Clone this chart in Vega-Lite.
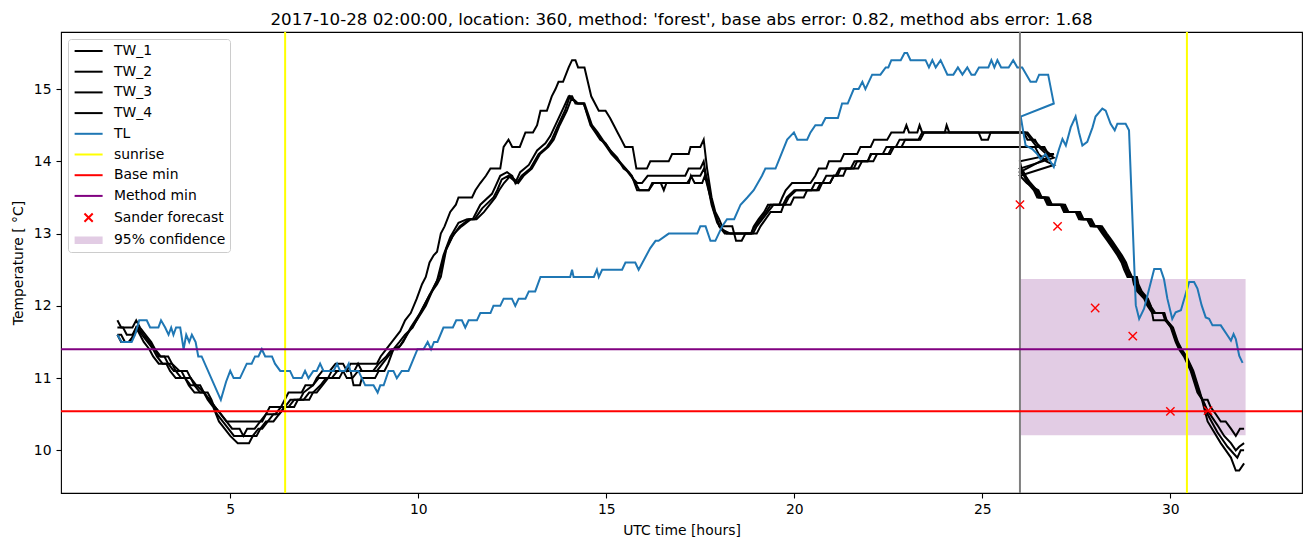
{
"$schema": "https://vega.github.io/schema/vega-lite/v6.json",
"width": 1241,
"height": 461,
"autosize": {"type": "none"},
"padding": {"left": 61, "top": 32, "right": 9, "bottom": 54},
"background": "white",
"config": {
"font": "DejaVu Sans",
"view": {"stroke": "black", "strokeWidth": 1.1},
"axis": {"domain": false, "grid": false, "tickColor": "black", "tickWidth": 1.1, "tickSize": 5, "labelFont": "DejaVu Sans", "labelFontSize": 13.9, "labelColor": "black", "titleFont": "DejaVu Sans", "titleFontSize": 13.9, "titleFontWeight": "normal", "titleColor": "black"},
"axisX": {"labelPadding": 4, "titlePadding": 8},
"axisY": {"labelPadding": 5, "titlePadding": 8}
},
"title": {"text": "2017-10-28 02:00:00, location: 360, method: 'forest', base abs error: 0.82, method abs error: 1.68", "font": "DejaVu Sans", "fontSize": 16.7, "fontWeight": "normal", "color": "black", "anchor": "middle", "offset": 2},
"datasets": {
"band": [{"hour": 26, "hour2": 32, "temp": 10.21, "temp2": 12.37}],
"vlines": [{"kind": "sunrise", "hour": 6.46}, {"kind": "sunrise", "hour": 30.44}, {"kind": "start", "hour": 26}],
"hlines": [{"kind": "Base min", "temp": 10.54}, {"kind": "Method min", "temp": 11.40}],
"forecast": [{"hour": 26, "temp": 13.40}, {"hour": 27, "temp": 13.10}, {"hour": 28, "temp": 11.97}, {"hour": 29, "temp": 11.58}, {"hour": 30, "temp": 10.54}, {"hour": 31, "temp": 10.55}],
"legend": [{"series": "TW_1", "hour": 2, "temp": 11.6}, {"series": "TW_2", "hour": 2, "temp": 11.6}, {"series": "TW_3", "hour": 2, "temp": 11.6}, {"series": "TW_4", "hour": 2, "temp": 11.6}, {"series": "TL", "hour": 2, "temp": 11.6}, {"series": "sunrise", "hour": 2, "temp": 11.6}, {"series": "Base min", "hour": 2, "temp": 11.6}, {"series": "Method min", "hour": 2, "temp": 11.6}, {"series": "Sander forecast", "hour": 2, "temp": 11.6}, {"series": "95% confidence", "hour": 2, "temp": 11.6}],
"lines": [
{"series":"TW_1","hour":2.0,"temp":11.8},{"series":"TW_1","hour":2.1,"temp":11.7},{"series":"TW_1","hour":2.4,"temp":11.7},{"series":"TW_1","hour":2.5,"temp":11.8},{"series":"TW_1","hour":2.6,"temp":11.7},{"series":"TW_1","hour":2.75,"temp":11.6},{"series":"TW_1","hour":2.9,"temp":11.5},{"series":"TW_1","hour":3.0,"temp":11.4},{"series":"TW_1","hour":3.15,"temp":11.3},{"series":"TW_1","hour":3.35,"temp":11.3},{"series":"TW_1","hour":3.45,"temp":11.2},{"series":"TW_1","hour":3.65,"temp":11.1},{"series":"TW_1","hour":3.85,"temp":11.1},{"series":"TW_1","hour":3.95,"temp":11.0},{"series":"TW_1","hour":4.1,"temp":10.9},{"series":"TW_1","hour":4.3,"temp":10.8},{"series":"TW_1","hour":4.45,"temp":10.7},{"series":"TW_1","hour":4.6,"temp":10.6},{"series":"TW_1","hour":4.75,"temp":10.5},{"series":"TW_1","hour":4.9,"temp":10.4},{"series":"TW_1","hour":5.85,"temp":10.4},{"series":"TW_1","hour":5.95,"temp":10.5},{"series":"TW_1","hour":6.05,"temp":10.6},{"series":"TW_1","hour":6.35,"temp":10.6},{"series":"TW_1","hour":6.45,"temp":10.7},{"series":"TW_1","hour":6.55,"temp":10.8},{"series":"TW_1","hour":6.9,"temp":10.8},{"series":"TW_1","hour":7.0,"temp":10.9},{"series":"TW_1","hour":7.2,"temp":10.9},{"series":"TW_1","hour":7.3,"temp":11.0},{"series":"TW_1","hour":7.45,"temp":11.1},{"series":"TW_1","hour":7.65,"temp":11.1},{"series":"TW_1","hour":7.8,"temp":11.2},{"series":"TW_1","hour":8.0,"temp":11.2},{"series":"TW_1","hour":8.1,"temp":11.1},{"series":"TW_1","hour":8.2,"temp":11.2},{"series":"TW_1","hour":8.9,"temp":11.2},{"series":"TW_1","hour":9.0,"temp":11.3},{"series":"TW_1","hour":9.15,"temp":11.4},{"series":"TW_1","hour":9.3,"temp":11.5},{"series":"TW_1","hour":9.52,"temp":11.65},{"series":"TW_1","hour":9.65,"temp":11.8},{"series":"TW_1","hour":9.8,"temp":11.9},{"series":"TW_1","hour":9.96,"temp":12.1},{"series":"TW_1","hour":10.1,"temp":12.3},{"series":"TW_1","hour":10.2,"temp":12.4},{"series":"TW_1","hour":10.3,"temp":12.6},{"series":"TW_1","hour":10.41,"temp":12.7},{"series":"TW_1","hour":10.5,"temp":12.75},{"series":"TW_1","hour":10.6,"temp":13.0},{"series":"TW_1","hour":10.7,"temp":13.1},{"series":"TW_1","hour":10.85,"temp":13.3},{"series":"TW_1","hour":11.0,"temp":13.4},{"series":"TW_1","hour":11.07,"temp":13.5},{"series":"TW_1","hour":11.43,"temp":13.5},{"series":"TW_1","hour":11.52,"temp":13.6},{"series":"TW_1","hour":11.65,"temp":13.7},{"series":"TW_1","hour":11.8,"temp":13.8},{"series":"TW_1","hour":11.92,"temp":13.9},{"series":"TW_1","hour":12.18,"temp":13.9},{"series":"TW_1","hour":12.27,"temp":14.2},{"series":"TW_1","hour":12.4,"temp":14.3},{"series":"TW_1","hour":12.5,"temp":14.2},{"series":"TW_1","hour":12.7,"temp":14.2},{"series":"TW_1","hour":12.85,"temp":14.4},{"series":"TW_1","hour":13.05,"temp":14.4},{"series":"TW_1","hour":13.16,"temp":14.5},{"series":"TW_1","hour":13.25,"temp":14.7},{"series":"TW_1","hour":13.42,"temp":14.7},{"series":"TW_1","hour":13.55,"temp":14.9},{"series":"TW_1","hour":13.65,"temp":15.0},{"series":"TW_1","hour":13.73,"temp":15.1},{"series":"TW_1","hour":13.85,"temp":15.1},{"series":"TW_1","hour":14.0,"temp":15.3},{"series":"TW_1","hour":14.09,"temp":15.4},{"series":"TW_1","hour":14.18,"temp":15.4},{"series":"TW_1","hour":14.25,"temp":15.3},{"series":"TW_1","hour":14.42,"temp":15.3},{"series":"TW_1","hour":14.6,"temp":14.9},{"series":"TW_1","hour":14.8,"temp":14.7},{"series":"TW_1","hour":14.98,"temp":14.7},{"series":"TW_1","hour":15.1,"temp":14.6},{"series":"TW_1","hour":15.2,"temp":14.5},{"series":"TW_1","hour":15.3,"temp":14.4},{"series":"TW_1","hour":15.4,"temp":14.3},{"series":"TW_1","hour":15.5,"temp":14.2},{"series":"TW_1","hour":15.7,"temp":14.2},{"series":"TW_1","hour":15.8,"temp":13.9},{"series":"TW_1","hour":16.08,"temp":13.9},{"series":"TW_1","hour":16.17,"temp":14.0},{"series":"TW_1","hour":16.66,"temp":14.0},{"series":"TW_1","hour":16.75,"temp":14.1},{"series":"TW_1","hour":17.19,"temp":14.1},{"series":"TW_1","hour":17.24,"temp":14.2},{"series":"TW_1","hour":17.5,"temp":14.2},{"series":"TW_1","hour":17.59,"temp":14.3},{"series":"TW_1","hour":17.68,"temp":13.9},{"series":"TW_1","hour":17.8,"temp":13.5},{"series":"TW_1","hour":17.9,"temp":13.3},{"series":"TW_1","hour":18.0,"temp":13.2},{"series":"TW_1","hour":18.08,"temp":13.1},{"series":"TW_1","hour":18.35,"temp":13.1},{"series":"TW_1","hour":18.45,"temp":12.9},{"series":"TW_1","hour":18.6,"temp":12.9},{"series":"TW_1","hour":18.7,"temp":13.0},{"series":"TW_1","hour":18.85,"temp":13.0},{"series":"TW_1","hour":18.92,"temp":13.1},{"series":"TW_1","hour":19.05,"temp":13.2},{"series":"TW_1","hour":19.2,"temp":13.3},{"series":"TW_1","hour":19.3,"temp":13.4},{"series":"TW_1","hour":19.6,"temp":13.4},{"series":"TW_1","hour":19.68,"temp":13.5},{"series":"TW_1","hour":19.77,"temp":13.6},{"series":"TW_1","hour":19.94,"temp":13.7},{"series":"TW_1","hour":20.43,"temp":13.7},{"series":"TW_1","hour":20.56,"temp":13.8},{"series":"TW_1","hour":20.65,"temp":13.9},{"series":"TW_1","hour":20.85,"temp":13.9},{"series":"TW_1","hour":20.92,"temp":14.0},{"series":"TW_1","hour":21.23,"temp":14.0},{"series":"TW_1","hour":21.32,"temp":14.1},{"series":"TW_1","hour":21.67,"temp":14.1},{"series":"TW_1","hour":21.76,"temp":14.2},{"series":"TW_1","hour":22.03,"temp":14.2},{"series":"TW_1","hour":22.12,"temp":14.3},{"series":"TW_1","hour":22.47,"temp":14.3},{"series":"TW_1","hour":22.58,"temp":14.4},{"series":"TW_1","hour":22.91,"temp":14.4},{"series":"TW_1","hour":22.98,"temp":14.5},{"series":"TW_1","hour":23.05,"temp":14.4},{"series":"TW_1","hour":23.27,"temp":14.4},{"series":"TW_1","hour":23.33,"temp":14.5},{"series":"TW_1","hour":23.4,"temp":14.4},{"series":"TW_1","hour":24.0,"temp":14.4},{"series":"TW_1","hour":24.05,"temp":14.5},{"series":"TW_1","hour":24.12,"temp":14.4},{"series":"TW_1","hour":26.1,"temp":14.4},{"series":"TW_1","hour":26.2,"temp":14.3},{"series":"TW_1","hour":26.4,"temp":14.3},{"series":"TW_1","hour":26.5,"temp":14.2},{"series":"TW_1","hour":26.7,"temp":14.1},{"series":"TW_1","hour":26.9,"temp":14.1},
{"series":"TW_1","hour":26.0,"temp":14.0},{"series":"TW_1","hour":26.06,"temp":13.85},{"series":"TW_1","hour":26.2,"temp":13.7},{"series":"TW_1","hour":26.37,"temp":13.6},{"series":"TW_1","hour":26.46,"temp":13.5},{"series":"TW_1","hour":26.64,"temp":13.5},{"series":"TW_1","hour":26.73,"temp":13.4},{"series":"TW_1","hour":27.08,"temp":13.4},{"series":"TW_1","hour":27.17,"temp":13.3},{"series":"TW_1","hour":27.48,"temp":13.3},{"series":"TW_1","hour":27.57,"temp":13.2},{"series":"TW_1","hour":27.78,"temp":13.2},{"series":"TW_1","hour":27.88,"temp":13.1},{"series":"TW_1","hour":28.06,"temp":13.1},{"series":"TW_1","hour":28.19,"temp":13.0},{"series":"TW_1","hour":28.33,"temp":12.9},{"series":"TW_1","hour":28.46,"temp":12.8},{"series":"TW_1","hour":28.59,"temp":12.7},{"series":"TW_1","hour":28.7,"temp":12.6},{"series":"TW_1","hour":28.77,"temp":12.5},{"series":"TW_1","hour":28.86,"temp":12.4},{"series":"TW_1","hour":28.99,"temp":12.4},{"series":"TW_1","hour":29.03,"temp":12.3},{"series":"TW_1","hour":29.12,"temp":12.2},{"series":"TW_1","hour":29.3,"temp":12.1},{"series":"TW_1","hour":29.39,"temp":12.0},{"series":"TW_1","hour":29.52,"temp":11.9},{"series":"TW_1","hour":29.83,"temp":11.9},{"series":"TW_1","hour":29.88,"temp":11.8},{"series":"TW_1","hour":30.01,"temp":11.7},{"series":"TW_1","hour":30.14,"temp":11.5},{"series":"TW_1","hour":30.23,"temp":11.4},{"series":"TW_1","hour":30.36,"temp":11.3},{"series":"TW_1","hour":30.45,"temp":11.2},{"series":"TW_1","hour":30.54,"temp":11.1},{"series":"TW_1","hour":30.63,"temp":10.95},{"series":"TW_1","hour":30.72,"temp":10.8},{"series":"TW_1","hour":30.85,"temp":10.7},{"series":"TW_1","hour":30.99,"temp":10.7},{"series":"TW_1","hour":31.07,"temp":10.6},{"series":"TW_1","hour":31.21,"temp":10.5},{"series":"TW_1","hour":31.34,"temp":10.4},{"series":"TW_1","hour":31.47,"temp":10.4},{"series":"TW_1","hour":31.61,"temp":10.3},{"series":"TW_1","hour":31.74,"temp":10.2},{"series":"TW_1","hour":31.85,"temp":10.3},{"series":"TW_1","hour":31.96,"temp":10.3},
{"series":"TW_2","hour":2.0,"temp":11.6},{"series":"TW_2","hour":2.1,"temp":11.6},{"series":"TW_2","hour":2.2,"temp":11.5},{"series":"TW_2","hour":2.35,"temp":11.5},{"series":"TW_2","hour":2.5,"temp":11.7},{"series":"TW_2","hour":2.6,"temp":11.6},{"series":"TW_2","hour":2.7,"temp":11.5},{"series":"TW_2","hour":2.85,"temp":11.4},{"series":"TW_2","hour":2.95,"temp":11.3},{"series":"TW_2","hour":3.1,"temp":11.2},{"series":"TW_2","hour":3.3,"temp":11.2},{"series":"TW_2","hour":3.4,"temp":11.1},{"series":"TW_2","hour":3.55,"temp":11.0},{"series":"TW_2","hour":3.8,"temp":11.0},{"series":"TW_2","hour":3.9,"temp":10.9},{"series":"TW_2","hour":4.05,"temp":10.8},{"series":"TW_2","hour":4.3,"temp":10.8},{"series":"TW_2","hour":4.4,"temp":10.7},{"series":"TW_2","hour":4.55,"temp":10.6},{"series":"TW_2","hour":4.7,"temp":10.4},{"series":"TW_2","hour":4.85,"temp":10.3},{"series":"TW_2","hour":5.0,"temp":10.2},{"series":"TW_2","hour":5.2,"temp":10.1},{"series":"TW_2","hour":5.5,"temp":10.1},{"series":"TW_2","hour":5.6,"temp":10.2},{"series":"TW_2","hour":5.75,"temp":10.3},{"series":"TW_2","hour":5.85,"temp":10.3},{"series":"TW_2","hour":6.0,"temp":10.4},{"series":"TW_2","hour":6.15,"temp":10.5},{"series":"TW_2","hour":6.3,"temp":10.5},{"series":"TW_2","hour":6.45,"temp":10.6},{"series":"TW_2","hour":6.6,"temp":10.7},{"series":"TW_2","hour":6.85,"temp":10.7},{"series":"TW_2","hour":6.95,"temp":10.8},{"series":"TW_2","hour":7.2,"temp":10.9},{"series":"TW_2","hour":7.35,"temp":11.0},{"series":"TW_2","hour":7.6,"temp":11.0},{"series":"TW_2","hour":7.7,"temp":11.1},{"series":"TW_2","hour":8.0,"temp":11.1},{"series":"TW_2","hour":8.1,"temp":11.0},{"series":"TW_2","hour":8.25,"temp":11.0},{"series":"TW_2","hour":8.4,"temp":11.1},{"series":"TW_2","hour":8.9,"temp":11.1},{"series":"TW_2","hour":9.05,"temp":11.2},{"series":"TW_2","hour":9.2,"temp":11.3},{"series":"TW_2","hour":9.35,"temp":11.4},{"series":"TW_2","hour":9.52,"temp":11.45},{"series":"TW_2","hour":9.7,"temp":11.6},{"series":"TW_2","hour":9.96,"temp":11.8},{"series":"TW_2","hour":10.2,"temp":12.0},{"series":"TW_2","hour":10.41,"temp":12.25},{"series":"TW_2","hour":10.5,"temp":12.35},{"series":"TW_2","hour":10.67,"temp":12.7},{"series":"TW_2","hour":10.85,"temp":12.95},{"series":"TW_2","hour":11.07,"temp":13.15},{"series":"TW_2","hour":11.3,"temp":13.2},{"series":"TW_2","hour":11.45,"temp":13.2},{"series":"TW_2","hour":11.65,"temp":13.4},{"series":"TW_2","hour":11.96,"temp":13.55},{"series":"TW_2","hour":12.05,"temp":13.65},{"series":"TW_2","hour":12.18,"temp":13.8},{"series":"TW_2","hour":12.36,"temp":13.85},{"series":"TW_2","hour":12.5,"temp":13.8},{"series":"TW_2","hour":12.58,"temp":13.7},{"series":"TW_2","hour":12.71,"temp":13.85},{"series":"TW_2","hour":12.94,"temp":13.95},{"series":"TW_2","hour":13.16,"temp":14.15},{"series":"TW_2","hour":13.38,"temp":14.25},{"series":"TW_2","hour":13.51,"temp":14.35},{"series":"TW_2","hour":13.69,"temp":14.55},{"series":"TW_2","hour":13.87,"temp":14.75},{"series":"TW_2","hour":14.0,"temp":14.9},{"series":"TW_2","hour":14.09,"temp":14.9},{"series":"TW_2","hour":14.18,"temp":14.8},{"series":"TW_2","hour":14.4,"temp":14.8},{"series":"TW_2","hour":14.58,"temp":14.5},{"series":"TW_2","hour":14.71,"temp":14.4},{"series":"TW_2","hour":14.84,"temp":14.3},{"series":"TW_2","hour":14.98,"temp":14.25},{"series":"TW_2","hour":15.11,"temp":14.15},{"series":"TW_2","hour":15.29,"temp":14.05},{"series":"TW_2","hour":15.46,"temp":13.9},{"series":"TW_2","hour":15.6,"temp":13.85},{"series":"TW_2","hour":15.73,"temp":13.75},{"series":"TW_2","hour":15.82,"temp":13.7},{"series":"TW_2","hour":15.95,"temp":13.7},{"series":"TW_2","hour":16.1,"temp":13.8},{"series":"TW_2","hour":17.1,"temp":13.8},{"series":"TW_2","hour":17.19,"temp":13.9},{"series":"TW_2","hour":17.5,"temp":13.9},{"series":"TW_2","hour":17.59,"temp":14.0},{"series":"TW_2","hour":17.65,"temp":13.8},{"series":"TW_2","hour":17.8,"temp":13.4},{"series":"TW_2","hour":17.95,"temp":13.15},{"series":"TW_2","hour":18.1,"temp":13.05},{"series":"TW_2","hour":18.3,"temp":13.0},{"series":"TW_2","hour":18.85,"temp":13.0},{"series":"TW_2","hour":18.95,"temp":13.1},{"series":"TW_2","hour":19.1,"temp":13.2},{"series":"TW_2","hour":19.25,"temp":13.3},{"series":"TW_2","hour":19.37,"temp":13.4},{"series":"TW_2","hour":19.7,"temp":13.4},{"series":"TW_2","hour":19.8,"temp":13.5},{"series":"TW_2","hour":20.0,"temp":13.6},{"series":"TW_2","hour":20.45,"temp":13.6},{"series":"TW_2","hour":20.55,"temp":13.7},{"series":"TW_2","hour":20.75,"temp":13.7},{"series":"TW_2","hour":20.85,"temp":13.8},{"series":"TW_2","hour":21.1,"temp":13.8},{"series":"TW_2","hour":21.2,"temp":13.9},{"series":"TW_2","hour":21.5,"temp":13.9},{"series":"TW_2","hour":21.6,"temp":14.0},{"series":"TW_2","hour":21.95,"temp":14.0},{"series":"TW_2","hour":22.05,"temp":14.1},{"series":"TW_2","hour":22.35,"temp":14.1},{"series":"TW_2","hour":22.45,"temp":14.2},{"series":"TW_2","hour":22.7,"temp":14.2},{"series":"TW_2","hour":22.8,"temp":14.3},{"series":"TW_2","hour":23.3,"temp":14.3},{"series":"TW_2","hour":23.4,"temp":14.4},{"series":"TW_2","hour":24.9,"temp":14.4},{"series":"TW_2","hour":24.98,"temp":14.3},{"series":"TW_2","hour":25.15,"temp":14.3},{"series":"TW_2","hour":25.22,"temp":14.4},{"series":"TW_2","hour":26.15,"temp":14.4},{"series":"TW_2","hour":26.3,"temp":14.3},{"series":"TW_2","hour":26.45,"temp":14.2},{"series":"TW_2","hour":26.65,"temp":14.2},{"series":"TW_2","hour":26.75,"temp":14.1},{"series":"TW_2","hour":26.9,"temp":14.05},
{"series":"TW_2","hour":26.0,"temp":13.9},{"series":"TW_2","hour":26.1,"temp":13.85},{"series":"TW_2","hour":26.24,"temp":13.7},{"series":"TW_2","hour":26.41,"temp":13.6},{"series":"TW_2","hour":26.5,"temp":13.5},{"series":"TW_2","hour":26.68,"temp":13.5},{"series":"TW_2","hour":26.77,"temp":13.4},{"series":"TW_2","hour":27.12,"temp":13.4},{"series":"TW_2","hour":27.21,"temp":13.3},{"series":"TW_2","hour":27.52,"temp":13.3},{"series":"TW_2","hour":27.61,"temp":13.2},{"series":"TW_2","hour":27.82,"temp":13.2},{"series":"TW_2","hour":27.92,"temp":13.1},{"series":"TW_2","hour":28.1,"temp":13.1},{"series":"TW_2","hour":28.23,"temp":13.0},{"series":"TW_2","hour":28.37,"temp":12.9},{"series":"TW_2","hour":28.5,"temp":12.8},{"series":"TW_2","hour":28.63,"temp":12.7},{"series":"TW_2","hour":28.74,"temp":12.6},{"series":"TW_2","hour":28.81,"temp":12.5},{"series":"TW_2","hour":28.9,"temp":12.4},{"series":"TW_2","hour":29.03,"temp":12.4},{"series":"TW_2","hour":29.07,"temp":12.3},{"series":"TW_2","hour":29.16,"temp":12.2},{"series":"TW_2","hour":29.34,"temp":12.1},{"series":"TW_2","hour":29.43,"temp":12.0},{"series":"TW_2","hour":29.56,"temp":11.9},{"series":"TW_2","hour":29.8,"temp":11.9},{"series":"TW_2","hour":29.86,"temp":11.8},{"series":"TW_2","hour":30.03,"temp":11.7},{"series":"TW_2","hour":30.16,"temp":11.5},{"series":"TW_2","hour":30.26,"temp":11.4},{"series":"TW_2","hour":30.39,"temp":11.3},{"series":"TW_2","hour":30.48,"temp":11.2},{"series":"TW_2","hour":30.57,"temp":11.1},{"series":"TW_2","hour":30.66,"temp":10.95},{"series":"TW_2","hour":30.75,"temp":10.8},{"series":"TW_2","hour":30.9,"temp":10.65},{"series":"TW_2","hour":30.99,"temp":10.55},{"series":"TW_2","hour":31.12,"temp":10.45},{"series":"TW_2","hour":31.25,"temp":10.35},{"series":"TW_2","hour":31.43,"temp":10.2},{"series":"TW_2","hour":31.61,"temp":10.1},{"series":"TW_2","hour":31.74,"temp":10.0},{"series":"TW_2","hour":31.83,"temp":10.05},{"series":"TW_2","hour":31.96,"temp":10.1},
{"series":"TW_3","hour":2.0,"temp":11.7},{"series":"TW_3","hour":2.15,"temp":11.7},{"series":"TW_3","hour":2.25,"temp":11.6},{"series":"TW_3","hour":2.4,"temp":11.6},{"series":"TW_3","hour":2.5,"temp":11.7},{"series":"TW_3","hour":2.65,"temp":11.6},{"series":"TW_3","hour":2.8,"temp":11.5},{"series":"TW_3","hour":2.95,"temp":11.4},{"series":"TW_3","hour":3.05,"temp":11.3},{"series":"TW_3","hour":3.2,"temp":11.2},{"series":"TW_3","hour":3.45,"temp":11.2},{"series":"TW_3","hour":3.55,"temp":11.1},{"series":"TW_3","hour":3.7,"temp":11.0},{"series":"TW_3","hour":3.95,"temp":11.0},{"series":"TW_3","hour":4.05,"temp":10.9},{"series":"TW_3","hour":4.2,"temp":10.8},{"series":"TW_3","hour":4.4,"temp":10.8},{"series":"TW_3","hour":4.5,"temp":10.7},{"series":"TW_3","hour":4.65,"temp":10.5},{"series":"TW_3","hour":4.8,"temp":10.4},{"series":"TW_3","hour":4.95,"temp":10.3},{"series":"TW_3","hour":5.1,"temp":10.2},{"series":"TW_3","hour":5.7,"temp":10.2},{"series":"TW_3","hour":5.8,"temp":10.3},{"series":"TW_3","hour":5.95,"temp":10.4},{"series":"TW_3","hour":6.15,"temp":10.4},{"series":"TW_3","hour":6.3,"temp":10.5},{"series":"TW_3","hour":6.45,"temp":10.6},{"series":"TW_3","hour":6.7,"temp":10.6},{"series":"TW_3","hour":6.8,"temp":10.7},{"series":"TW_3","hour":7.1,"temp":10.7},{"series":"TW_3","hour":7.2,"temp":10.8},{"series":"TW_3","hour":7.4,"temp":10.9},{"series":"TW_3","hour":7.55,"temp":11.0},{"series":"TW_3","hour":7.7,"temp":11.0},{"series":"TW_3","hour":7.85,"temp":11.1},{"series":"TW_3","hour":8.3,"temp":11.1},{"series":"TW_3","hour":8.4,"temp":11.2},{"series":"TW_3","hour":8.5,"temp":11.1},{"series":"TW_3","hour":8.8,"temp":11.1},{"series":"TW_3","hour":8.95,"temp":11.2},{"series":"TW_3","hour":9.15,"temp":11.3},{"series":"TW_3","hour":9.3,"temp":11.4},{"series":"TW_3","hour":9.45,"temp":11.4},{"series":"TW_3","hour":9.6,"temp":11.5},{"series":"TW_3","hour":9.8,"temp":11.7},{"series":"TW_3","hour":10.05,"temp":11.9},{"series":"TW_3","hour":10.25,"temp":12.1},{"series":"TW_3","hour":10.45,"temp":12.3},{"series":"TW_3","hour":10.55,"temp":12.4},{"series":"TW_3","hour":10.72,"temp":12.75},{"series":"TW_3","hour":10.9,"temp":12.95},{"series":"TW_3","hour":11.1,"temp":13.1},{"series":"TW_3","hour":11.35,"temp":13.2},{"series":"TW_3","hour":11.5,"temp":13.2},{"series":"TW_3","hour":11.7,"temp":13.35},{"series":"TW_3","hour":12.0,"temp":13.5},{"series":"TW_3","hour":12.1,"temp":13.6},{"series":"TW_3","hour":12.22,"temp":13.75},{"series":"TW_3","hour":12.4,"temp":13.8},{"series":"TW_3","hour":12.62,"temp":13.7},{"series":"TW_3","hour":12.75,"temp":13.8},{"series":"TW_3","hour":12.98,"temp":13.9},{"series":"TW_3","hour":13.2,"temp":14.1},{"series":"TW_3","hour":13.42,"temp":14.2},{"series":"TW_3","hour":13.55,"temp":14.3},{"series":"TW_3","hour":13.72,"temp":14.5},{"series":"TW_3","hour":13.9,"temp":14.7},{"series":"TW_3","hour":14.03,"temp":14.9},{"series":"TW_3","hour":14.12,"temp":14.85},{"series":"TW_3","hour":14.22,"temp":14.8},{"series":"TW_3","hour":14.4,"temp":14.8},{"series":"TW_3","hour":14.6,"temp":14.5},{"series":"TW_3","hour":14.74,"temp":14.4},{"series":"TW_3","hour":14.87,"temp":14.3},{"series":"TW_3","hour":15.01,"temp":14.2},{"series":"TW_3","hour":15.14,"temp":14.1},{"series":"TW_3","hour":15.32,"temp":14.0},{"series":"TW_3","hour":15.5,"temp":13.9},{"series":"TW_3","hour":15.65,"temp":13.8},{"series":"TW_3","hour":15.78,"temp":13.7},{"series":"TW_3","hour":15.88,"temp":13.6},{"series":"TW_3","hour":16.13,"temp":13.6},{"series":"TW_3","hour":16.26,"temp":13.7},{"series":"TW_3","hour":16.45,"temp":13.7},{"series":"TW_3","hour":16.53,"temp":13.6},{"series":"TW_3","hour":16.6,"temp":13.7},{"series":"TW_3","hour":17.15,"temp":13.7},{"series":"TW_3","hour":17.28,"temp":13.8},{"series":"TW_3","hour":17.5,"temp":13.8},{"series":"TW_3","hour":17.6,"temp":13.9},{"series":"TW_3","hour":17.7,"temp":13.7},{"series":"TW_3","hour":17.85,"temp":13.35},{"series":"TW_3","hour":18.0,"temp":13.1},{"series":"TW_3","hour":18.15,"temp":13.0},{"series":"TW_3","hour":18.9,"temp":13.0},{"series":"TW_3","hour":19.0,"temp":13.1},{"series":"TW_3","hour":19.15,"temp":13.2},{"series":"TW_3","hour":19.3,"temp":13.3},{"series":"TW_3","hour":19.45,"temp":13.4},{"series":"TW_3","hour":19.75,"temp":13.4},{"series":"TW_3","hour":19.85,"temp":13.5},{"series":"TW_3","hour":20.05,"temp":13.6},{"series":"TW_3","hour":20.6,"temp":13.6},{"series":"TW_3","hour":20.7,"temp":13.7},{"series":"TW_3","hour":20.95,"temp":13.7},{"series":"TW_3","hour":21.05,"temp":13.8},{"series":"TW_3","hour":21.3,"temp":13.8},{"series":"TW_3","hour":21.38,"temp":13.9},{"series":"TW_3","hour":21.7,"temp":13.9},{"series":"TW_3","hour":21.8,"temp":14.0},{"series":"TW_3","hour":22.1,"temp":14.0},{"series":"TW_3","hour":22.2,"temp":14.1},{"series":"TW_3","hour":22.5,"temp":14.1},{"series":"TW_3","hour":22.6,"temp":14.2},{"series":"TW_3","hour":22.85,"temp":14.2},{"series":"TW_3","hour":22.95,"temp":14.3},{"series":"TW_3","hour":23.35,"temp":14.3},{"series":"TW_3","hour":23.45,"temp":14.4},{"series":"TW_3","hour":26.2,"temp":14.4},{"series":"TW_3","hour":26.35,"temp":14.3},{"series":"TW_3","hour":26.55,"temp":14.2},{"series":"TW_3","hour":26.8,"temp":14.1},{"series":"TW_3","hour":26.9,"temp":14.1},
{"series":"TW_3","hour":26.0,"temp":13.85},{"series":"TW_3","hour":26.14,"temp":13.8},{"series":"TW_3","hour":26.28,"temp":13.7},{"series":"TW_3","hour":26.45,"temp":13.6},{"series":"TW_3","hour":26.54,"temp":13.5},{"series":"TW_3","hour":26.72,"temp":13.5},{"series":"TW_3","hour":26.81,"temp":13.4},{"series":"TW_3","hour":27.16,"temp":13.4},{"series":"TW_3","hour":27.25,"temp":13.3},{"series":"TW_3","hour":27.56,"temp":13.3},{"series":"TW_3","hour":27.65,"temp":13.2},{"series":"TW_3","hour":27.86,"temp":13.2},{"series":"TW_3","hour":27.96,"temp":13.1},{"series":"TW_3","hour":28.14,"temp":13.1},{"series":"TW_3","hour":28.27,"temp":13.0},{"series":"TW_3","hour":28.41,"temp":12.9},{"series":"TW_3","hour":28.54,"temp":12.8},{"series":"TW_3","hour":28.67,"temp":12.7},{"series":"TW_3","hour":28.78,"temp":12.6},{"series":"TW_3","hour":28.85,"temp":12.5},{"series":"TW_3","hour":28.94,"temp":12.4},{"series":"TW_3","hour":29.07,"temp":12.4},{"series":"TW_3","hour":29.11,"temp":12.3},{"series":"TW_3","hour":29.2,"temp":12.2},{"series":"TW_3","hour":29.38,"temp":12.1},{"series":"TW_3","hour":29.47,"temp":12.0},{"series":"TW_3","hour":29.6,"temp":11.9},{"series":"TW_3","hour":29.84,"temp":11.9},{"series":"TW_3","hour":29.9,"temp":11.8},{"series":"TW_3","hour":30.05,"temp":11.7},{"series":"TW_3","hour":30.18,"temp":11.5},{"series":"TW_3","hour":30.28,"temp":11.4},{"series":"TW_3","hour":30.41,"temp":11.3},{"series":"TW_3","hour":30.5,"temp":11.2},{"series":"TW_3","hour":30.59,"temp":11.1},{"series":"TW_3","hour":30.68,"temp":10.95},{"series":"TW_3","hour":30.77,"temp":10.8},{"series":"TW_3","hour":30.9,"temp":10.65},{"series":"TW_3","hour":30.99,"temp":10.5},{"series":"TW_3","hour":31.25,"temp":10.25},{"series":"TW_3","hour":31.52,"temp":10.05},{"series":"TW_3","hour":31.78,"temp":9.9},{"series":"TW_3","hour":31.87,"temp":10.0},{"series":"TW_3","hour":31.96,"temp":10.0},
{"series":"TW_4","hour":2.0,"temp":11.6},{"series":"TW_4","hour":2.1,"temp":11.5},{"series":"TW_4","hour":2.3,"temp":11.5},{"series":"TW_4","hour":2.45,"temp":11.6},{"series":"TW_4","hour":2.55,"temp":11.7},{"series":"TW_4","hour":2.7,"temp":11.6},{"series":"TW_4","hour":2.85,"temp":11.5},{"series":"TW_4","hour":3.0,"temp":11.4},{"series":"TW_4","hour":3.1,"temp":11.3},{"series":"TW_4","hour":3.25,"temp":11.3},{"series":"TW_4","hour":3.35,"temp":11.2},{"series":"TW_4","hour":3.5,"temp":11.1},{"series":"TW_4","hour":3.7,"temp":11.1},{"series":"TW_4","hour":3.8,"temp":11.0},{"series":"TW_4","hour":3.95,"temp":10.9},{"series":"TW_4","hour":4.2,"temp":10.9},{"series":"TW_4","hour":4.3,"temp":10.8},{"series":"TW_4","hour":4.45,"temp":10.7},{"series":"TW_4","hour":4.6,"temp":10.6},{"series":"TW_4","hour":4.75,"temp":10.5},{"series":"TW_4","hour":4.9,"temp":10.4},{"series":"TW_4","hour":5.05,"temp":10.3},{"series":"TW_4","hour":5.25,"temp":10.3},{"series":"TW_4","hour":5.35,"temp":10.2},{"series":"TW_4","hour":5.45,"temp":10.3},{"series":"TW_4","hour":5.65,"temp":10.3},{"series":"TW_4","hour":5.8,"temp":10.4},{"series":"TW_4","hour":5.95,"temp":10.5},{"series":"TW_4","hour":6.2,"temp":10.5},{"series":"TW_4","hour":6.35,"temp":10.6},{"series":"TW_4","hour":6.55,"temp":10.6},{"series":"TW_4","hour":6.7,"temp":10.7},{"series":"TW_4","hour":6.95,"temp":10.7},{"series":"TW_4","hour":7.1,"temp":10.8},{"series":"TW_4","hour":7.3,"temp":10.8},{"series":"TW_4","hour":7.45,"temp":10.9},{"series":"TW_4","hour":7.6,"temp":11.0},{"series":"TW_4","hour":7.9,"temp":11.0},{"series":"TW_4","hour":8.0,"temp":11.1},{"series":"TW_4","hour":8.2,"temp":11.1},{"series":"TW_4","hour":8.28,"temp":10.9},{"series":"TW_4","hour":8.45,"temp":10.9},{"series":"TW_4","hour":8.5,"temp":11.0},{"series":"TW_4","hour":8.85,"temp":11.0},{"series":"TW_4","hour":8.95,"temp":11.1},{"series":"TW_4","hour":9.1,"temp":11.1},{"series":"TW_4","hour":9.2,"temp":11.2},{"series":"TW_4","hour":9.34,"temp":11.4},{"series":"TW_4","hour":9.5,"temp":11.5},{"series":"TW_4","hour":9.65,"temp":11.6},{"series":"TW_4","hour":9.85,"temp":11.7},{"series":"TW_4","hour":10.1,"temp":11.95},{"series":"TW_4","hour":10.3,"temp":12.15},{"series":"TW_4","hour":10.5,"temp":12.3},{"series":"TW_4","hour":10.6,"temp":12.4},{"series":"TW_4","hour":10.75,"temp":12.8},{"series":"TW_4","hour":10.95,"temp":13.0},{"series":"TW_4","hour":11.15,"temp":13.1},{"series":"TW_4","hour":11.4,"temp":13.2},{"series":"TW_4","hour":11.55,"temp":13.2},{"series":"TW_4","hour":11.75,"temp":13.3},{"series":"TW_4","hour":12.05,"temp":13.5},{"series":"TW_4","hour":12.15,"temp":13.6},{"series":"TW_4","hour":12.28,"temp":13.7},{"series":"TW_4","hour":12.45,"temp":13.8},{"series":"TW_4","hour":12.66,"temp":13.7},{"series":"TW_4","hour":12.8,"temp":13.8},{"series":"TW_4","hour":13.02,"temp":13.9},{"series":"TW_4","hour":13.24,"temp":14.1},{"series":"TW_4","hour":13.46,"temp":14.2},{"series":"TW_4","hour":13.6,"temp":14.3},{"series":"TW_4","hour":13.76,"temp":14.5},{"series":"TW_4","hour":13.95,"temp":14.7},{"series":"TW_4","hour":14.06,"temp":14.85},{"series":"TW_4","hour":14.15,"temp":14.85},{"series":"TW_4","hour":14.25,"temp":14.8},{"series":"TW_4","hour":14.42,"temp":14.8},{"series":"TW_4","hour":14.62,"temp":14.5},{"series":"TW_4","hour":14.77,"temp":14.4},{"series":"TW_4","hour":14.9,"temp":14.3},{"series":"TW_4","hour":15.04,"temp":14.2},{"series":"TW_4","hour":15.17,"temp":14.1},{"series":"TW_4","hour":15.35,"temp":14.0},{"series":"TW_4","hour":15.52,"temp":13.9},{"series":"TW_4","hour":15.68,"temp":13.8},{"series":"TW_4","hour":15.82,"temp":13.6},{"series":"TW_4","hour":16.13,"temp":13.6},{"series":"TW_4","hour":16.22,"temp":13.7},{"series":"TW_4","hour":17.2,"temp":13.7},{"series":"TW_4","hour":17.25,"temp":13.8},{"series":"TW_4","hour":17.35,"temp":13.7},{"series":"TW_4","hour":17.55,"temp":13.7},{"series":"TW_4","hour":17.62,"temp":13.8},{"series":"TW_4","hour":17.72,"temp":13.6},{"series":"TW_4","hour":17.87,"temp":13.3},{"series":"TW_4","hour":18.02,"temp":13.1},{"series":"TW_4","hour":18.2,"temp":13.0},{"series":"TW_4","hour":19.0,"temp":13.0},{"series":"TW_4","hour":19.1,"temp":13.1},{"series":"TW_4","hour":19.37,"temp":13.3},{"series":"TW_4","hour":19.65,"temp":13.3},{"series":"TW_4","hour":19.72,"temp":13.4},{"series":"TW_4","hour":19.9,"temp":13.4},{"series":"TW_4","hour":19.99,"temp":13.5},{"series":"TW_4","hour":20.25,"temp":13.5},{"series":"TW_4","hour":20.34,"temp":13.6},{"series":"TW_4","hour":20.65,"temp":13.6},{"series":"TW_4","hour":20.74,"temp":13.7},{"series":"TW_4","hour":20.95,"temp":13.7},{"series":"TW_4","hour":21.05,"temp":13.8},{"series":"TW_4","hour":21.15,"temp":13.8},{"series":"TW_4","hour":21.23,"temp":13.9},{"series":"TW_4","hour":21.58,"temp":13.9},{"series":"TW_4","hour":21.67,"temp":14.0},{"series":"TW_4","hour":21.95,"temp":14.0},{"series":"TW_4","hour":22.03,"temp":14.1},{"series":"TW_4","hour":22.55,"temp":14.1},{"series":"TW_4","hour":22.65,"temp":14.2},{"series":"TW_4","hour":26.4,"temp":14.2},{"series":"TW_4","hour":26.5,"temp":14.1},{"series":"TW_4","hour":26.7,"temp":14.0},{"series":"TW_4","hour":26.9,"temp":13.95},
{"series":"TW_4","hour":26.0,"temp":13.8},{"series":"TW_4","hour":26.18,"temp":13.7},{"series":"TW_4","hour":26.32,"temp":13.65},{"series":"TW_4","hour":26.49,"temp":13.6},{"series":"TW_4","hour":26.58,"temp":13.5},{"series":"TW_4","hour":26.76,"temp":13.5},{"series":"TW_4","hour":26.85,"temp":13.4},{"series":"TW_4","hour":27.2,"temp":13.4},{"series":"TW_4","hour":27.29,"temp":13.3},{"series":"TW_4","hour":27.6,"temp":13.3},{"series":"TW_4","hour":27.69,"temp":13.2},{"series":"TW_4","hour":27.9,"temp":13.2},{"series":"TW_4","hour":28.0,"temp":13.1},{"series":"TW_4","hour":28.18,"temp":13.1},{"series":"TW_4","hour":28.31,"temp":13.0},{"series":"TW_4","hour":28.45,"temp":12.9},{"series":"TW_4","hour":28.58,"temp":12.8},{"series":"TW_4","hour":28.71,"temp":12.7},{"series":"TW_4","hour":28.82,"temp":12.6},{"series":"TW_4","hour":28.89,"temp":12.5},{"series":"TW_4","hour":28.98,"temp":12.4},{"series":"TW_4","hour":29.11,"temp":12.4},{"series":"TW_4","hour":29.15,"temp":12.3},{"series":"TW_4","hour":29.24,"temp":12.2},{"series":"TW_4","hour":29.4,"temp":12.1},{"series":"TW_4","hour":29.48,"temp":12.0},{"series":"TW_4","hour":29.55,"temp":11.8},{"series":"TW_4","hour":29.9,"temp":11.8},{"series":"TW_4","hour":30.07,"temp":11.7},{"series":"TW_4","hour":30.2,"temp":11.5},{"series":"TW_4","hour":30.3,"temp":11.4},{"series":"TW_4","hour":30.43,"temp":11.3},{"series":"TW_4","hour":30.52,"temp":11.2},{"series":"TW_4","hour":30.61,"temp":11.1},{"series":"TW_4","hour":30.7,"temp":10.95},{"series":"TW_4","hour":30.79,"temp":10.8},{"series":"TW_4","hour":30.99,"temp":10.4},{"series":"TW_4","hour":31.34,"temp":10.1},{"series":"TW_4","hour":31.61,"temp":9.9},{"series":"TW_4","hour":31.74,"temp":9.72},{"series":"TW_4","hour":31.83,"temp":9.72},{"series":"TW_4","hour":31.96,"temp":9.82},
{"series":"TL","hour":2.0,"temp":11.6},{"series":"TL","hour":2.11,"temp":11.5},{"series":"TL","hour":2.38,"temp":11.5},{"series":"TL","hour":2.47,"temp":11.6},{"series":"TL","hour":2.58,"temp":11.8},{"series":"TL","hour":2.78,"temp":11.8},{"series":"TL","hour":2.87,"temp":11.7},{"series":"TL","hour":3.09,"temp":11.7},{"series":"TL","hour":3.16,"temp":11.8},{"series":"TL","hour":3.27,"temp":11.7},{"series":"TL","hour":3.36,"temp":11.6},{"series":"TL","hour":3.43,"temp":11.7},{"series":"TL","hour":3.49,"temp":11.6},{"series":"TL","hour":3.56,"temp":11.7},{"series":"TL","hour":3.67,"temp":11.7},{"series":"TL","hour":3.76,"temp":11.4},{"series":"TL","hour":3.83,"temp":11.6},{"series":"TL","hour":3.91,"temp":11.5},{"series":"TL","hour":3.98,"temp":11.6},{"series":"TL","hour":4.08,"temp":11.5},{"series":"TL","hour":4.15,"temp":11.3},{"series":"TL","hour":4.24,"temp":11.3},{"series":"TL","hour":4.75,"temp":10.7},{"series":"TL","hour":4.89,"temp":10.95},{"series":"TL","hour":5.0,"temp":11.1},{"series":"TL","hour":5.09,"temp":11.0},{"series":"TL","hour":5.26,"temp":11.0},{"series":"TL","hour":5.44,"temp":11.2},{"series":"TL","hour":5.57,"temp":11.2},{"series":"TL","hour":5.66,"temp":11.3},{"series":"TL","hour":5.75,"temp":11.3},{"series":"TL","hour":5.84,"temp":11.4},{"series":"TL","hour":5.93,"temp":11.3},{"series":"TL","hour":6.11,"temp":11.3},{"series":"TL","hour":6.19,"temp":11.2},{"series":"TL","hour":6.33,"temp":11.1},{"series":"TL","hour":6.59,"temp":11.1},{"series":"TL","hour":6.68,"temp":11.0},{"series":"TL","hour":6.9,"temp":11.0},{"series":"TL","hour":6.99,"temp":11.1},{"series":"TL","hour":7.08,"temp":11.0},{"series":"TL","hour":7.21,"temp":11.1},{"series":"TL","hour":7.3,"temp":11.1},{"series":"TL","hour":7.39,"temp":11.2},{"series":"TL","hour":7.48,"temp":11.1},{"series":"TL","hour":7.75,"temp":11.1},{"series":"TL","hour":7.84,"temp":11.2},{"series":"TL","hour":7.92,"temp":11.1},{"series":"TL","hour":8.05,"temp":11.1},{"series":"TL","hour":8.15,"temp":11.2},{"series":"TL","hour":8.19,"temp":11.1},{"series":"TL","hour":8.41,"temp":11.1},{"series":"TL","hour":8.5,"temp":11.0},{"series":"TL","hour":8.59,"temp":10.9},{"series":"TL","hour":8.81,"temp":10.9},{"series":"TL","hour":8.92,"temp":10.8},{"series":"TL","hour":8.99,"temp":10.9},{"series":"TL","hour":9.08,"temp":10.9},{"series":"TL","hour":9.21,"temp":11.1},{"series":"TL","hour":9.34,"temp":11.1},{"series":"TL","hour":9.43,"temp":11.0},{"series":"TL","hour":9.56,"temp":11.1},{"series":"TL","hour":9.74,"temp":11.1},{"series":"TL","hour":9.98,"temp":11.4},{"series":"TL","hour":10.14,"temp":11.4},{"series":"TL","hour":10.25,"temp":11.5},{"series":"TL","hour":10.34,"temp":11.4},{"series":"TL","hour":10.42,"temp":11.5},{"series":"TL","hour":10.51,"temp":11.5},{"series":"TL","hour":10.67,"temp":11.7},{"series":"TL","hour":10.92,"temp":11.7},{"series":"TL","hour":11.01,"temp":11.8},{"series":"TL","hour":11.16,"temp":11.8},{"series":"TL","hour":11.25,"temp":11.7},{"series":"TL","hour":11.34,"temp":11.8},{"series":"TL","hour":11.56,"temp":11.8},{"series":"TL","hour":11.65,"temp":11.9},{"series":"TL","hour":11.92,"temp":11.9},{"series":"TL","hour":12.0,"temp":12.0},{"series":"TL","hour":12.18,"temp":12.0},{"series":"TL","hour":12.27,"temp":12.1},{"series":"TL","hour":12.49,"temp":12.1},{"series":"TL","hour":12.58,"temp":12.0},{"series":"TL","hour":12.67,"temp":12.1},{"series":"TL","hour":12.85,"temp":12.1},{"series":"TL","hour":12.94,"temp":12.2},{"series":"TL","hour":13.11,"temp":12.2},{"series":"TL","hour":13.25,"temp":12.4},{"series":"TL","hour":14.04,"temp":12.4},{"series":"TL","hour":14.09,"temp":12.5},{"series":"TL","hour":14.13,"temp":12.4},{"series":"TL","hour":14.67,"temp":12.4},{"series":"TL","hour":14.75,"temp":12.5},{"series":"TL","hour":14.8,"temp":12.4},{"series":"TL","hour":14.89,"temp":12.5},{"series":"TL","hour":15.42,"temp":12.5},{"series":"TL","hour":15.51,"temp":12.6},{"series":"TL","hour":15.77,"temp":12.6},{"series":"TL","hour":15.86,"temp":12.5},{"series":"TL","hour":16.17,"temp":12.8},{"series":"TL","hour":16.31,"temp":12.9},{"series":"TL","hour":16.39,"temp":12.9},{"series":"TL","hour":16.66,"temp":13.0},{"series":"TL","hour":17.42,"temp":13.0},{"series":"TL","hour":17.5,"temp":13.1},{"series":"TL","hour":17.64,"temp":13.1},{"series":"TL","hour":17.77,"temp":12.9},{"series":"TL","hour":17.9,"temp":12.9},{"series":"TL","hour":18.08,"temp":13.1},{"series":"TL","hour":18.21,"temp":13.2},{"series":"TL","hour":18.4,"temp":13.2},{"series":"TL","hour":18.57,"temp":13.4},{"series":"TL","hour":18.75,"temp":13.5},{"series":"TL","hour":18.92,"temp":13.6},{"series":"TL","hour":19.14,"temp":13.8},{"series":"TL","hour":19.23,"temp":13.9},{"series":"TL","hour":19.5,"temp":13.9},{"series":"TL","hour":19.81,"temp":14.3},{"series":"TL","hour":19.99,"temp":14.4},{"series":"TL","hour":20.08,"temp":14.3},{"series":"TL","hour":20.34,"temp":14.3},{"series":"TL","hour":20.43,"temp":14.4},{"series":"TL","hour":20.56,"temp":14.5},{"series":"TL","hour":20.73,"temp":14.5},{"series":"TL","hour":20.83,"temp":14.6},{"series":"TL","hour":21.16,"temp":14.6},{"series":"TL","hour":21.27,"temp":14.8},{"series":"TL","hour":21.42,"temp":14.8},{"series":"TL","hour":21.58,"temp":15.0},{"series":"TL","hour":21.71,"temp":15.0},{"series":"TL","hour":21.81,"temp":15.1},{"series":"TL","hour":21.89,"temp":15.0},{"series":"TL","hour":22.07,"temp":15.2},{"series":"TL","hour":22.29,"temp":15.2},{"series":"TL","hour":22.43,"temp":15.3},{"series":"TL","hour":22.5,"temp":15.3},{"series":"TL","hour":22.58,"temp":15.4},{"series":"TL","hour":22.83,"temp":15.4},{"series":"TL","hour":22.93,"temp":15.5},{"series":"TL","hour":23.0,"temp":15.5},{"series":"TL","hour":23.09,"temp":15.4},{"series":"TL","hour":23.49,"temp":15.4},{"series":"TL","hour":23.58,"temp":15.3},{"series":"TL","hour":23.67,"temp":15.4},{"series":"TL","hour":23.76,"temp":15.3},{"series":"TL","hour":23.89,"temp":15.4},{"series":"TL","hour":24.07,"temp":15.2},{"series":"TL","hour":24.23,"temp":15.2},{"series":"TL","hour":24.35,"temp":15.3},{"series":"TL","hour":24.47,"temp":15.2},{"series":"TL","hour":24.6,"temp":15.3},{"series":"TL","hour":24.71,"temp":15.2},{"series":"TL","hour":24.8,"temp":15.2},{"series":"TL","hour":24.91,"temp":15.3},{"series":"TL","hour":25.16,"temp":15.3},{"series":"TL","hour":25.24,"temp":15.4},{"series":"TL","hour":25.32,"temp":15.3},{"series":"TL","hour":25.4,"temp":15.4},{"series":"TL","hour":25.5,"temp":15.3},{"series":"TL","hour":25.7,"temp":15.3},{"series":"TL","hour":25.82,"temp":15.4},{"series":"TL","hour":25.93,"temp":15.3},{"series":"TL","hour":26.06,"temp":15.3},{"series":"TL","hour":26.28,"temp":15.1},{"series":"TL","hour":26.43,"temp":15.1},{"series":"TL","hour":26.51,"temp":15.2},{"series":"TL","hour":26.75,"temp":15.2},{"series":"TL","hour":26.9,"temp":14.8},
{"series":"TL","hour":26.02,"temp":14.62},{"series":"TL","hour":26.15,"temp":14.22},{"series":"TL","hour":26.33,"temp":14.17},{"series":"TL","hour":26.46,"temp":14.1},{"series":"TL","hour":26.55,"temp":14.03},{"series":"TL","hour":26.68,"temp":14.1},{"series":"TL","hour":26.82,"temp":13.99},{"series":"TL","hour":26.9,"temp":13.92},{"series":"TL","hour":27.04,"temp":14.17},{"series":"TL","hour":27.13,"temp":14.31},{"series":"TL","hour":27.22,"temp":14.22},{"series":"TL","hour":27.35,"temp":14.47},{"series":"TL","hour":27.48,"temp":14.62},{"series":"TL","hour":27.57,"temp":14.4},{"series":"TL","hour":27.66,"temp":14.22},{"series":"TL","hour":27.79,"temp":14.27},{"series":"TL","hour":27.93,"temp":14.47},{"series":"TL","hour":28.01,"temp":14.62},{"series":"TL","hour":28.19,"temp":14.73},{"series":"TL","hour":28.28,"temp":14.7},{"series":"TL","hour":28.41,"temp":14.52},{"series":"TL","hour":28.52,"temp":14.43},{"series":"TL","hour":28.59,"temp":14.52},{"series":"TL","hour":28.81,"temp":14.52},{"series":"TL","hour":28.9,"temp":14.43},{"series":"TL","hour":29.08,"temp":12.01},{"series":"TL","hour":29.17,"temp":11.82},{"series":"TL","hour":29.3,"temp":11.96},{"series":"TL","hour":29.57,"temp":12.51},{"series":"TL","hour":29.74,"temp":12.51},{"series":"TL","hour":29.83,"temp":12.37},{"series":"TL","hour":29.92,"temp":12.1},{"series":"TL","hour":30.05,"temp":11.82},{"series":"TL","hour":30.14,"temp":11.91},{"series":"TL","hour":30.28,"temp":11.94},{"series":"TL","hour":30.41,"temp":12.17},{"series":"TL","hour":30.5,"temp":12.33},{"series":"TL","hour":30.63,"temp":12.33},{"series":"TL","hour":30.72,"temp":12.24},{"series":"TL","hour":30.83,"temp":12.01},{"series":"TL","hour":30.94,"temp":11.84},{"series":"TL","hour":31.03,"temp":11.82},{"series":"TL","hour":31.12,"temp":11.73},{"series":"TL","hour":31.34,"temp":11.73},{"series":"TL","hour":31.52,"temp":11.59},{"series":"TL","hour":31.61,"temp":11.52},{"series":"TL","hour":31.68,"temp":11.61},{"series":"TL","hour":31.74,"temp":11.54},{"series":"TL","hour":31.83,"temp":11.31},{"series":"TL","hour":31.92,"temp":11.21}
]
},
"layer": [
{"data": {"name": "band"}, "mark": {"type": "rect", "color": "#e2cce4"},
 "encoding": {
  "x": {"field": "hour", "type": "quantitative", "scale": {"domain": [0.5, 33.5], "nice": false, "zero": false}, "axis": {"values": [5, 10, 15, 20, 25, 30], "format": "d", "title": "UTC time [hours]"}},
  "x2": {"field": "hour2"},
  "y": {"field": "temp", "type": "quantitative", "scale": {"domain": [9.41, 15.79], "nice": false, "zero": false}, "axis": {"values": [10, 11, 12, 13, 14, 15], "format": "d", "title": "Temperature [ °C]"}},
  "y2": {"field": "temp2"}}},
{"data": {"name": "lines"}, "transform": [{"filter": "datum.series !== 'TL'"}], "mark": {"type": "line", "color": "black", "strokeWidth": 2},
 "encoding": {"x": {"field": "hour", "type": "quantitative"}, "y": {"field": "temp", "type": "quantitative"}, "detail": {"field": "series"}, "order": {"value": null}}},
{"data": {"name": "lines"}, "transform": [{"filter": "datum.series === 'TL'"}], "mark": {"type": "line", "color": "#1f77b4", "strokeWidth": 2},
 "encoding": {"x": {"field": "hour", "type": "quantitative"}, "y": {"field": "temp", "type": "quantitative"}, "order": {"value": null}}},
{"data": {"name": "vlines"}, "transform": [{"filter": "datum.kind === 'sunrise'"}], "mark": {"type": "rule", "color": "yellow", "strokeWidth": 2},
 "encoding": {"x": {"field": "hour", "type": "quantitative"}}},
{"data": {"name": "vlines"}, "transform": [{"filter": "datum.kind === 'start'"}], "mark": {"type": "rule", "color": "grey", "strokeWidth": 2},
 "encoding": {"x": {"field": "hour", "type": "quantitative"}}},
{"data": {"name": "hlines"}, "transform": [{"filter": "datum.kind === 'Base min'"}], "mark": {"type": "rule", "color": "red", "strokeWidth": 2},
 "encoding": {"y": {"field": "temp", "type": "quantitative"}}},
{"data": {"name": "hlines"}, "transform": [{"filter": "datum.kind === 'Method min'"}], "mark": {"type": "rule", "color": "purple", "strokeWidth": 2},
 "encoding": {"y": {"field": "temp", "type": "quantitative"}}},
{"data": {"name": "forecast"}, "mark": {"type": "point", "shape": "M-1,-1L1,1M-1,1L1,-1", "filled": false, "color": "red", "size": 69, "strokeWidth": 1.4, "opacity": 1},
 "encoding": {"x": {"field": "hour", "type": "quantitative"}, "y": {"field": "temp", "type": "quantitative"}}},
{"data": {"name": "legend"}, "mark": {"type": "point", "filled": false, "opacity": 0},
 "encoding": {
  "x": {"field": "hour", "type": "quantitative"},
  "y": {"field": "temp", "type": "quantitative"},
  "color": {"field": "series", "type": "nominal",
   "scale": {"domain": ["TW_1", "TW_2", "TW_3", "TW_4", "TL", "sunrise", "Base min", "Method min", "Sander forecast", "95% confidence"],
             "range": ["black", "black", "black", "black", "#1f77b4", "yellow", "red", "purple", "red", "#e2cce4"]},
   "legend": {"title": null, "orient": "top-left", "offset": 7, "padding": 4, "fillColor": "rgba(255,255,255,0.8)", "strokeColor": "#cccccc", "cornerRadius": 3, "symbolSize": 196, "symbolStrokeWidth": 2, "symbolOpacity": 1, "labelFont": "DejaVu Sans", "labelFontSize": 13.9, "labelColor": "black", "labelOffset": 26, "labelLimit": 0, "rowPadding": 5.7}},
  "shape": {"field": "series", "type": "nominal",
   "scale": {"domain": ["TW_1", "TW_2", "TW_3", "TW_4", "TL", "sunrise", "Base min", "Method min", "Sander forecast", "95% confidence"],
             "range": ["M-0.77,0H3.23", "M-0.77,0H3.23", "M-0.77,0H3.23", "M-0.77,0H3.23", "M-0.77,0H3.23", "M-0.77,0H3.23", "M-0.77,0H3.23", "M-0.77,0H3.23", "M0.64,-0.59L1.82,0.59M0.64,0.59L1.82,-0.59", "M-0.77,-0.4H3.23M-0.77,-0.2H3.23M-0.77,0H3.23M-0.77,0.2H3.23M-0.77,0.4H3.23"]},
   "legend": {"title": null, "orient": "top-left", "offset": 7, "padding": 4, "fillColor": "rgba(255,255,255,0.8)", "strokeColor": "#cccccc", "cornerRadius": 3, "symbolSize": 196, "symbolStrokeWidth": 2, "symbolOpacity": 1, "labelFont": "DejaVu Sans", "labelFontSize": 13.9, "labelColor": "black", "labelOffset": 26, "labelLimit": 0, "rowPadding": 5.7}}}}
]
}
